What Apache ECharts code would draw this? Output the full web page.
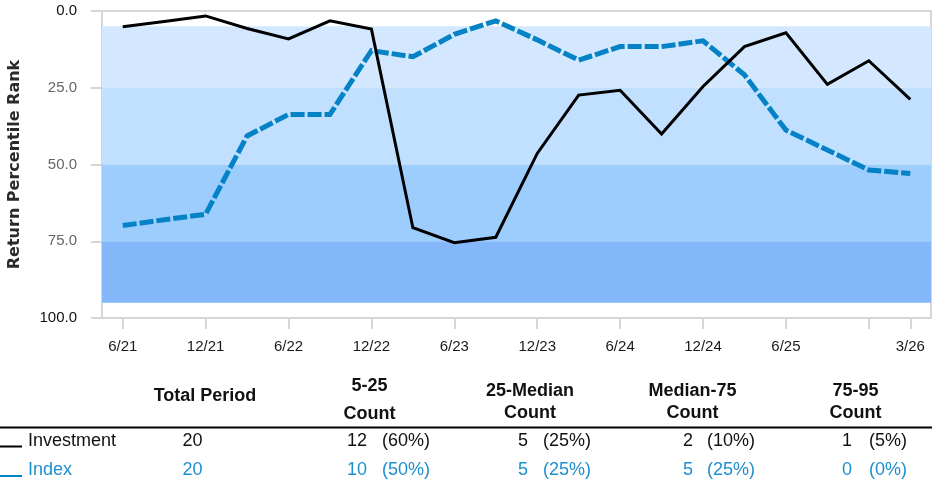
<!DOCTYPE html>
<html>
<head>
<meta charset="utf-8">
<script src="https://cdn.jsdelivr.net/npm/echarts@6/dist/echarts.min.js"></script>
<style>
html,body{margin:0;padding:0;background:#fff;}
#chart{width:932px;height:483px;}
</style>
</head>
<body>
<div id="chart"></div>
<script>
// ---- data ----
var categories = ['6/21','9/21','12/21','3/22','6/22','9/22','12/22','3/23','6/23','9/23','12/23','3/24','6/24','9/24','12/24','3/25','6/25','9/25','12/25','3/26'];
var investment = [5.1, 3.4, 1.6, 5.7, 9.1, 3.2, 5.9, 70.6, 75.5, 73.7, 46.4, 27.4, 25.8, 40.1, 24.6, 11.6, 7.1, 23.9, 16.2, 28.8];
var indexSeries = [69.9, 68.0, 66.2, 40.7, 33.7, 33.7, 12.9, 14.9, 7.6, 3.2, 9.4, 16.0, 11.6, 11.6, 9.7, 20.8, 38.8, 45.3, 51.8, 52.9];
var yTicks = [0, 25, 50, 75, 100];
var bandRanges = [[5, 25], [25, 50], [50, 75], [75, 95]];
var seriesNames = ['Investment', 'Index'];
var tableHeaders = [['Total Period'], ['5-25', 'Count'], ['25-Median', 'Count'], ['Median-75', 'Count'], ['75-95', 'Count']];
var totalPeriods = [20, 20];
var investmentCounts = [12, 5, 2, 1];
var investmentPcts = [60, 25, 10, 5];
var indexCounts = [10, 5, 5, 0];
var indexPcts = [50, 25, 25, 0];

// ---- styles ----
var FONT = "'Liberation Sans', Arial, sans-serif";
var bandColors = ['#d3e8fe', '#c1dffe', '#9ccdfd', '#85b7fb'];
var INV_COLOR = '#000000';
var IDX_COLOR = '#0482c6';
var IDX_TEXT = '#1e8fcf';

var chart = echarts.init(document.getElementById('chart'), null, {renderer: 'canvas'});

var markData = bandRanges.map(function (r, i) {
  return [{yAxis: r[0], itemStyle: {color: bandColors[i], opacity: 1}}, {yAxis: r[1]}];
});

var lastIdx = categories.length - 1;
function tickShown(i) { return i % 2 === 0 || i === lastIdx; }
function labelShown(i) { return (i % 2 === 0 && i < lastIdx - 1) || i === lastIdx; }

// ---- table graphics ----
var graphics = [];
var headerX = [205, 369.5, 530, 692.5, 855.5];
tableHeaders.forEach(function (h, i) {
  var ys;
  if (h.length === 1) ys = [396.5];
  else if (i === 1) ys = [386, 414];
  else ys = [391.5, 413];
  h.forEach(function (t, k) {
    graphics.push({type: 'text', x: headerX[i], y: ys[k], silent: true,
      style: {text: t, font: 'bold 18px ' + FONT, fill: '#111', align: 'center', verticalAlign: 'middle'}});
  });
});
graphics.push({type: 'line', silent: true, shape: {x1: 0, y1: 427.5, x2: 932, y2: 427.5}, style: {stroke: '#000', lineWidth: 2}});

var rows = [
  {name: seriesNames[0], y: 441, color: '#111', line: INV_COLOR, lineY: 446.5, total: totalPeriods[0], counts: investmentCounts, pcts: investmentPcts},
  {name: seriesNames[1], y: 470, color: IDX_TEXT, line: IDX_COLOR, lineY: 476, total: totalPeriods[1], counts: indexCounts, pcts: indexPcts}
];
var countRight = [367, 528, 693, 852];
var pctLeft = [382, 543, 707, 869];
rows.forEach(function (r) {
  graphics.push({type: 'line', silent: true, shape: {x1: 0, y1: r.lineY, x2: 22, y2: r.lineY}, style: {stroke: r.line, lineWidth: 2}});
  graphics.push({type: 'text', x: 28, y: r.y, silent: true,
    style: {text: r.name, font: '18px ' + FONT, fill: r.color, align: 'left', verticalAlign: 'middle'}});
  graphics.push({type: 'text', x: 192.5, y: r.y, silent: true,
    style: {text: String(r.total), font: '18px ' + FONT, fill: r.color, align: 'center', verticalAlign: 'middle'}});
  r.counts.forEach(function (c, j) {
    graphics.push({type: 'text', x: countRight[j], y: r.y, silent: true,
      style: {text: String(c), font: '18px ' + FONT, fill: r.color, align: 'right', verticalAlign: 'middle'}});
    graphics.push({type: 'text', x: pctLeft[j], y: r.y, silent: true,
      style: {text: '(' + r.pcts[j] + '%)', font: '18px ' + FONT, fill: r.color, align: 'left', verticalAlign: 'middle'}});
  });
});

var option = {
  backgroundColor: '#ffffff',
  animation: false,
  textStyle: {fontFamily: FONT},
  grid: {left: 102, right: 1, top: 11, bottom: 165, containLabel: false, outerBoundsMode: 'none',
    show: true, borderColor: '#d6d6d6', borderWidth: 2, backgroundColor: 'transparent'},
  xAxis: {
    type: 'category',
    data: categories,
    boundaryGap: true,
    position: 'bottom',
    axisLine: {show: true, onZero: false, lineStyle: {color: '#d6d6d6', width: 2}},
    axisTick: {show: true, inside: false, alignWithLabel: true, length: 11, lineStyle: {color: '#d6d6d6', width: 2},
      interval: function (i) { return tickShown(i); }},
    axisLabel: {show: true, margin: 21, fontSize: 15, color: '#1a1a1a', fontFamily: FONT,
      interval: function (i) { return labelShown(i); }},
    splitLine: {show: false}
  },
  yAxis: {
    type: 'value',
    inverse: true,
    position: 'left',
    min: yTicks[0],
    max: yTicks[yTicks.length - 1],
    interval: yTicks[1] - yTicks[0],
    name: 'Return Percentile Rank',
    nameLocation: 'middle',
    nameRotate: 90,
    nameGap: 79,
    nameTextStyle: {fontSize: 16, fontWeight: 'bold', color: '#2a2a2a', fontFamily: "'DejaVu Sans', " + FONT},
    axisLine: {show: true, onZero: false, lineStyle: {color: '#d6d6d6', width: 2}},
    axisTick: {show: true, inside: false, length: 11, lineStyle: {color: '#d6d6d6', width: 2}},
    axisLabel: {margin: 25, fontSize: 15, fontFamily: FONT,
      formatter: function (v) { return Number(v).toFixed(1); },
      color: function (v) { return (Number(v) === yTicks[0] || Number(v) === yTicks[yTicks.length - 1]) ? '#111' : '#666'; }},
    splitLine: {show: false}
  },
  series: [
    {
      name: seriesNames[1],
      type: 'line',
      data: indexSeries,
      symbol: 'none',
      z: 3,
      lineStyle: {color: IDX_COLOR, width: 5, type: [14, 3], cap: 'butt', join: 'miter'},
      markArea: {silent: true, z: 1, data: markData}
    },
    {
      name: seriesNames[0],
      type: 'line',
      data: investment,
      symbol: 'none',
      z: 4,
      lineStyle: {color: INV_COLOR, width: 3, join: 'miter'}
    }
  ],
  graphic: graphics
};
chart.setOption(option);
</script>
</body>
</html>
